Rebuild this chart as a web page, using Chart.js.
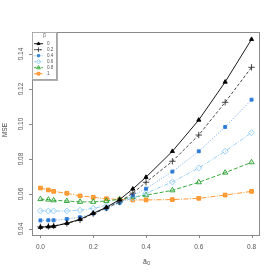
<!DOCTYPE html>
<html><head><meta charset="utf-8">
<script src="https://cdn.jsdelivr.net/npm/chart.js@4.4.0/dist/chart.umd.min.js"></script>
<style>html,body{margin:0;padding:0;background:#fff}#wrap{width:276px;height:276px}</style>
</head><body><div id="wrap"><canvas id="c" width="276" height="276"></canvas></div>
<script>
const xValues = [0, 0.03, 0.05, 0.1, 0.15, 0.2, 0.25, 0.3, 0.35, 0.4, 0.5, 0.6, 0.7, 0.8];
const seriesNames = ['0', '0.2', '0.4', '0.6', '0.8', '1'];
const mse_b0  = [0.0410, 0.0413, 0.0415, 0.0433, 0.0455, 0.0490, 0.0524, 0.0568, 0.0629, 0.0696, 0.0844, 0.1023, 0.1240, 0.1484];
const mse_b02 = [0.0412, 0.0415, 0.0418, 0.0432, 0.0452, 0.0488, 0.0520, 0.0555, 0.0605, 0.0667, 0.0787, 0.0937, 0.1124, 0.1324];
const mse_b04 = [0.0449, 0.0450, 0.0450, 0.0457, 0.0467, 0.0488, 0.0516, 0.0550, 0.0592, 0.0630, 0.0728, 0.0844, 0.0983, 0.1139];
const mse_b06 = [0.0504, 0.0503, 0.0503, 0.0503, 0.0507, 0.0518, 0.0533, 0.0553, 0.0576, 0.0604, 0.0669, 0.0749, 0.0844, 0.0950];
const mse_b08 = [0.0571, 0.0568, 0.0564, 0.0560, 0.0555, 0.0555, 0.0560, 0.0570, 0.0582, 0.0593, 0.0621, 0.0667, 0.0722, 0.0781];
const mse_b1  = [0.0634, 0.0623, 0.0615, 0.0604, 0.0589, 0.0581, 0.0573, 0.0568, 0.0566, 0.0566, 0.0568, 0.0575, 0.0594, 0.0615];
const xTicks = [0, 0.2, 0.4, 0.6, 0.8];
const yTicks = [0.04, 0.06, 0.08, 0.10, 0.12, 0.14];
const xTickLabels = ['0.0', '0.2', '0.4', '0.6', '0.8'];
const yTickLabels = ['0.04', '0.06', '0.08', '0.10', '0.12', '0.14'];
const legendTitle = 'β';
const xTitleMain = 'ã';
const xTitleSub = '0';
const yTitle = 'MSE';

function pts(ys){ return xValues.map((x,i)=>({x:x,y:ys[i]})); }

const styles = [
  {c:'#000000', lc:'#000000', ps:'triangle', bg:'#000000', r:2.4, dash:[], bw:0.9},
  {c:'#333333', lc:'#333333', ps:'cross', bg:'#333333', r:3.2, dash:[3,2], bw:0.9},
  {c:'#2a7bd6', lc:'#5fa3ea', ps:'rect', bg:'#2a7bd6', r:2.1, dash:[1,1.6], bw:0.9},
  {c:'#8ccaf5', lc:'#8ccaf5', ps:'rectRot', bg:'rgba(255,255,255,0)', r:3.0, dash:[4,1.5,1,1.5], bw:0.9},
  {c:'#22a02a', lc:'#22a02a', ps:'triangle', bg:'rgba(255,255,255,0)', r:3.0, dash:[4,2], bw:0.9},
  {c:'#ff8c1a', lc:'#ff8c1a', ps:'rect', bg:'#ffa040', r:2.6, dash:[5,1.5,1,1.5], bw:0.9}
];
const allSeries = [mse_b0, mse_b02, mse_b04, mse_b06, mse_b08, mse_b1];

const datasets = allSeries.map((ys,i)=>({
  label: seriesNames[i],
  data: pts(ys),
  borderColor: styles[i].lc,
  backgroundColor: styles[i].bg,
  borderWidth: styles[i].bw,
  borderDash: styles[i].dash,
  pointStyle: styles[i].ps,
  pointRadius: styles[i].r,
  pointBorderColor: styles[i].c,
  pointBackgroundColor: styles[i].bg,
  pointBorderWidth: 0.9,
  tension: 0,
  fill: false
}));

const FONT = '"Liberation Sans", Arial, Helvetica, sans-serif';

const decor = {
  id: 'decor',
  afterDraw(chart){
    const ctx = chart.ctx, a = chart.chartArea;
    const xs = chart.scales.x, ys = chart.scales.y;
    ctx.save();
    ctx.strokeStyle = '#8a8a8a'; ctx.lineWidth = 1; ctx.setLineDash([]);
    ctx.strokeRect(a.left + 0.5, a.top + 0.5, a.right - a.left - 1, a.bottom - a.top);
    ctx.fillStyle = '#555'; ctx.font = '6.5px ' + FONT;
    ctx.textAlign = 'center'; ctx.textBaseline = 'middle';
    ctx.beginPath();
    xTicks.forEach((v)=>{
      const px = Math.round(xs.getPixelForValue(v)) + 0.5;
      ctx.moveTo(px, a.bottom); ctx.lineTo(px, a.bottom + 3);
    });
    ctx.stroke();
    xTicks.forEach((v,i)=>{
      ctx.fillText(xTickLabels[i], xs.getPixelForValue(v), a.bottom + 12);
    });
    ctx.beginPath();
    yTicks.forEach((v)=>{
      const py = Math.round(ys.getPixelForValue(v)) + 0.5;
      ctx.moveTo(a.left, py); ctx.lineTo(a.left - 3, py);
    });
    ctx.stroke();
    yTicks.forEach((v,i)=>{
      ctx.save();
      ctx.translate(a.left - 11, ys.getPixelForValue(v));
      ctx.rotate(-Math.PI/2);
      ctx.fillText(yTickLabels[i], 0, 0);
      ctx.restore();
    });
    // axis titles
    ctx.fillStyle = '#444';
    const cx = (a.left + a.right)/2;
    ctx.font = '7px ' + FONT;
    ctx.textAlign = 'right';
    ctx.fillText(xTitleMain, cx + 1, 262);
    ctx.font = '5px ' + FONT;
    ctx.textAlign = 'left';
    ctx.fillText(xTitleSub, cx + 1.2, 264);
    ctx.textAlign = 'center';
    ctx.font = '6.5px ' + FONT;
    ctx.save();
    ctx.translate(5, 130);
    ctx.rotate(-Math.PI/2);
    ctx.fillText(yTitle, 0, 0);
    ctx.restore();
    // legend
    const lx = a.left, ly = a.top, lw = 25, lh = 48;
    ctx.fillStyle = '#fff';
    ctx.fillRect(lx, ly, lw, lh);
    ctx.fillStyle = '#b0b0b0';
    ctx.fillRect(lx + lw - 0.5, ly + 1, 1.5, lh);
    ctx.fillRect(lx + 1, ly + lh - 0.5, lw, 1.5);
    ctx.strokeStyle = '#9a9a9a'; ctx.lineWidth = 0.8;
    ctx.strokeRect(lx + 0.5, ly + 0.5, lw - 1, lh - 1);
    ctx.fillStyle = '#555'; ctx.font = '4.6px ' + FONT;
    ctx.textAlign = 'center';
    ctx.fillText(legendTitle, lx + 12.5, ly + 3.5);
    ctx.textAlign = 'left';
    seriesNames.forEach((name,i)=>{
      const st = styles[i];
      const yy = ly + 11.7 + i*6;
      ctx.strokeStyle = st.lc; ctx.lineWidth = 0.9;
      ctx.setLineDash(st.dash.map(d=>d*0.6));
      ctx.beginPath(); ctx.moveTo(lx + 2, yy); ctx.lineTo(lx + 11, yy); ctx.stroke();
      ctx.setLineDash([]);
      ctx.fillStyle = st.bg; ctx.strokeStyle = st.c; ctx.lineWidth = 0.8;
      Chart.helpers.drawPoint(ctx, {pointStyle: st.ps, radius: st.r*0.75, borderWidth: 0.8, rotation: 0}, lx + 6.5, yy);
      ctx.fillStyle = '#555';
      ctx.fillText(name, lx + 15, yy + 0.3);
    });
    ctx.restore();
  }
};

new Chart(document.getElementById('c'), {
  type: 'line',
  data: { datasets: datasets },
  options: {
    responsive: false,
    animation: false,
    devicePixelRatio: 1,
    layout: { padding: { left: 32, top: 32, right: 16, bottom: 41 } },
    plugins: { legend: { display: false }, tooltip: { enabled: false } },
    scales: {
      x: { type: 'linear', display: false, min: -0.032, max: 0.832 },
      y: { type: 'linear', display: false, min: 0.03657, max: 0.15257 }
    }
  },
  plugins: [decor]
});
</script></body></html>
